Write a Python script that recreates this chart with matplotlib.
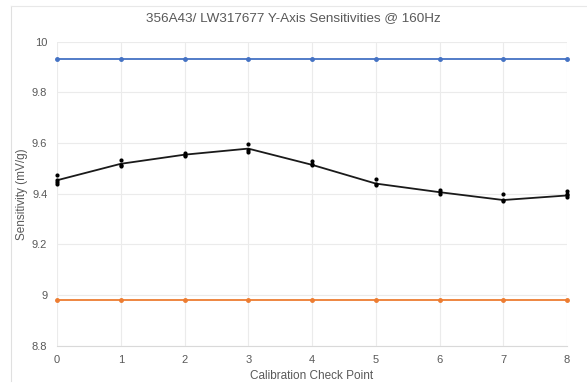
import matplotlib
matplotlib.use("Agg")
import matplotlib.pyplot as plt

plt.rcParams['font.family'] = ['Liberation Sans', 'DejaVu Sans']

check_points = [0, 1, 2, 3, 4, 5, 6, 7, 8]
upper_limit = [9.93] * 9
lower_limit = [8.98] * 9
mean_sens = [9.453, 9.518, 9.554, 9.578, 9.514, 9.440, 9.406, 9.375, 9.393]
readings = [
    [9.475, 9.455, 9.445, 9.440],
    [9.534, 9.512, 9.510],
    [9.560, 9.553, 9.548],
    [9.595, 9.572, 9.566],
    [9.531, 9.516, 9.512],
    [9.459, 9.440, 9.436],
    [9.416, 9.406, 9.400],
    [9.397, 9.375, 9.372],
    [9.409, 9.400, 9.393, 9.388],
]
title = "356A43/ LW317677 Y-Axis Sensitivities @ 160Hz"
xlabel = "Calibration Check Point"
ylabel = "Sensitivity (mV/g)"
yticks = [8.8, 9.0, 9.2, 9.4, 9.6, 9.8, 10.0]
ytick_labels = ["8.8", "9", "9.2", "9.4", "9.6", "9.8", "10"]

W, H = 587, 383
fig = plt.figure(figsize=(W / 100, H / 100), dpi=100)
ax = fig.add_axes([57 / W, 1 - 345.7 / H, (567 - 57) / W, (345.7 - 41.7) / H])

grey = "#595959"
grid_c = "#ebebeb"

ax.plot(check_points, upper_limit, color="#4472c4", lw=1.3, marker="o", ms=2.5, zorder=3, clip_on=False)
ax.plot(check_points, lower_limit, color="#ed7d31", lw=1.3, marker="o", ms=2.5, zorder=3, clip_on=False)
ax.plot(check_points, mean_sens, color="#1a1a1a", lw=1.3, zorder=3, clip_on=False)
for x, vals in zip(check_points, readings):
    ax.scatter([x] * len(vals), vals, s=9, color="black", zorder=4, clip_on=False, linewidths=0)

ax.set_xlim(0, 8)
ax.set_ylim(8.8, 10.0)
ax.set_xticks(check_points)
ax.set_yticks(yticks)
ax.set_yticklabels(ytick_labels)
ax.grid(True, color=grid_c, lw=0.8)
ax.set_axisbelow(True)
for s in ["top", "right", "left"]:
    ax.spines[s].set_visible(False)
ax.spines["bottom"].set_color("#d9d9d9")
ax.tick_params(axis="both", length=0, colors=grey, labelsize=8)
ax.tick_params(axis="x", pad=7)
ax.tick_params(axis="y", pad=7)

ax.set_xlabel(xlabel, color=grey, fontsize=8.5, labelpad=3)
ax.set_ylabel(ylabel, color=grey, fontsize=8.5, labelpad=3)
fig.text(0.5, 1 - 18 / H, title, ha="center", va="center", color=grey, fontsize=9.7)

# outer chart frame (left and top edges visible)
fig.add_artist(plt.Line2D([11 / W, 11 / W], [1 - 381 / H, 1 - 6 / H], transform=fig.transFigure,
                          color="#e0e0e0", lw=0.8))
fig.add_artist(plt.Line2D([11 / W, 1.0], [1 - 6 / H, 1 - 6 / H], transform=fig.transFigure,
                          color="#e8e8e8", lw=0.8))

fig.savefig("out.png", dpi=100)
